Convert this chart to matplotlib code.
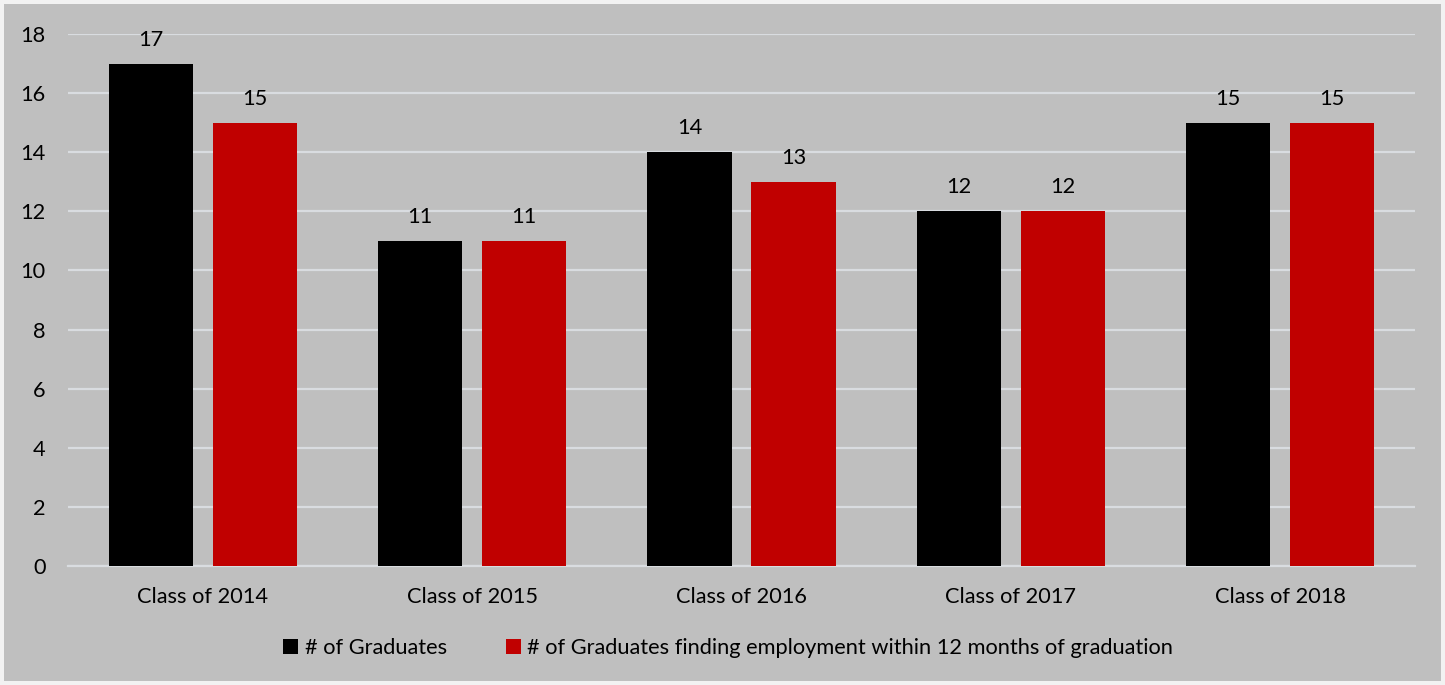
import matplotlib
matplotlib.use("Agg")
import matplotlib.pyplot as plt
import numpy as np
from matplotlib.patches import Rectangle

categories = ["Class of 2014", "Class of 2015", "Class of 2016", "Class of 2017", "Class of 2018"]
graduates = [17, 11, 14, 12, 15]
employed = [15, 11, 13, 12, 15]
series_names = ["# of Graduates", "# of Graduates finding employment within 12 months of graduation"]
yticks = [0, 2, 4, 6, 8, 10, 12, 14, 16, 18]

plt.rcParams['font.family'] = ['Lato', 'DejaVu Sans']
BG = "#BFBFBF"
GRID = "#D9DCE0"
FS = 15.7

fig = plt.figure(figsize=(14.45, 6.85), dpi=100)
fig.patch.set_facecolor("#F2F2F2")
fig.patches.append(Rectangle((4/1445, 4/685), 1437/1445, 677/685, transform=fig.transFigure,
                             facecolor=BG, edgecolor="none", zorder=-5))

ax = fig.add_axes([68/1445, 1-566/685, (1415-68)/1445, (566-34)/685])
ax.set_facecolor(BG)
ax.patch.set_alpha(0)

x = np.arange(len(categories))
w = 0.312
off = 0.193
b1 = ax.bar(x - off, graduates, w, color="#000000", label=series_names[0], zorder=3)
b2 = ax.bar(x + off, employed, w, color="#C00000", label=series_names[1], zorder=3)

for bars in (b1, b2):
    for r in bars:
        ax.annotate(f"{int(r.get_height())}", (r.get_x() + r.get_width()/2, r.get_height()),
                    xytext=(0, 10), textcoords="offset points", ha="center", va="bottom",
                    fontsize=FS, color="#000000")

ax.set_xlim(-0.5, len(categories) - 0.5)
ax.set_ylim(0, 18)
ax.set_yticks(yticks)
ax.set_xticks(x)
ax.set_xticklabels(categories)
ax.tick_params(axis="both", length=0, labelsize=FS, colors="#000000")
ax.tick_params(axis="y", pad=16)
ax.tick_params(axis="x", pad=15)
ax.yaxis.grid(True, color=GRID, linewidth=1.6, zorder=0)
ax.set_axisbelow(True)
for s in ["top", "right", "left"]:
    ax.spines[s].set_visible(False)
ax.spines["bottom"].set_color(GRID)
ax.spines["bottom"].set_linewidth(1.6)

leg = fig.legend(handles=[b1, b2], labels=series_names, loc="center",
                 bbox_to_anchor=(728/1445, 1-648/685), ncol=2, frameon=False,
                 fontsize=FS, handlelength=0.7, handleheight=0.7, handletextpad=0.3,
                 columnspacing=2.7)

fig.savefig("out.png", dpi=100, facecolor=fig.get_facecolor())
